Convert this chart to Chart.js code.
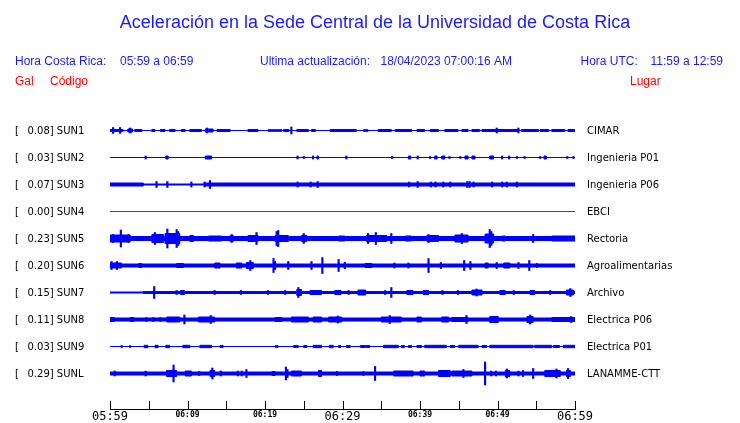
<!DOCTYPE html>
<html><head><meta charset="utf-8">
<script src="https://cdn.jsdelivr.net/npm/chart.js@4/dist/chart.umd.min.js"></script>
<style>html,body{margin:0;padding:0;background:#fff}canvas{display:block}</style>
</head><body><canvas id="c" width="740" height="423"></canvas>
<script>
// ---------- DATA ----------
const titleText = 'Aceleración en la Sede Central de la Universidad de Costa Rica';
const stations = ['SUN1','SUN2','SUN3','SUN4','SUN5','SUN6','SUN7','SUN8','SUN9','SUNL'];
const places = ['CIMAR','Ingenieria P01','Ingenieria P06','EBCI','Rectoria','Agroalimentarias','Archivo','Electrica P06','Electrica P01','LANAMME-CTT'];
const peakGal = [0.08,0.03,0.07,0.00,0.23,0.20,0.15,0.11,0.03,0.29];
const tickLabels = ['05:59','06:09','06:19','06:29','06:39','06:49','06:59'];
// background envelope half-amplitude of each trace
const baseAmp = [0,0,1.5,0,2,1.5,1,1.5,0,1.5];
// bursts: [start minute, end minute, half-amplitude]
const burstsSUN1 = [[0,1.7,1],[2.3,2.9,1.5],[3.2,4.1,1],[5.4,5.8,1],[6.5,7.1,1],[7.7,8.4,1],[9.2,9.7,1],[10.3,11.8,1],[12.3,13.3,1.5],[13.8,15.5,1],[17.8,19.1,1],[20.4,22.2,0.8],[22.4,23.1,1],[24.1,25.6,1],[26,26.5,1],[28.4,31.8,1],[32.7,33.3,0.8],[34.6,36.3,1],[36.8,38.9,1],[39.6,40.6,1],[41.3,42.4,1],[43.2,44.9,1],[45.4,46.2,1],[46.7,47.7,1],[48,52.7,1],[53.1,55.3,1],[55.5,56.6,1],[57,58.7,1],[59.1,60,1]];
const burstsSUN2 = [[7.2,7.5,1.5],[12.3,13.1,1.5],[26.7,26.9,1.5],[38.5,38.8,1.5],[41.9,42.2,1.5],[42.8,43.2,1.5],[45.8,46.2,1.5],[46.7,47.1,1.5],[49,49.5,1.5],[56,56.3,1.5]];
const burstsSUN3 = [[4.3,12.2,0.5]];
const burstsSUN4 = [];
const burstsSUN5 = [[0,2.6,3.5],[5.4,6.9,4],[7.1,9,5],[10.3,10.8,3],[12.7,14.4,2.5],[15.5,15.9,3],[17.8,19.1,3],[21.3,23,3],[24.7,25.4,3],[29.5,30.3,2.5],[33.1,35.7,3],[38.1,38.9,2.5],[40.9,42.4,3],[44.5,46.2,3.5],[48.4,49.5,4.5],[50.6,51,2.5],[57,60,2.5]];
const burstsSUN6 = [[0,1.5,2.5],[3.7,4.1,2],[8.6,9.5,2],[13.5,14.2,2.5],[16.3,17,2.5],[17.6,18.5,3],[30.2,30.4,3],[32.9,33.8,2],[48.4,48.8,2.5],[50.8,51.6,2.5]];
const burstsSUN7 = [[0,4.3,0.5],[9.1,9.6,2],[24.1,24.7,3],[25.8,27.3,2],[29,29.8,2],[32,33,2.5],[38.3,39.1,2],[40.4,41.1,2],[46.7,48,2.5],[50.3,51,2],[54.2,54.8,2],[58.9,59.8,2.5]];
const burstsSUN8 = [[0,0.6,2],[2.6,3.1,2],[7.3,9,2.5],[11.4,13.5,2.5],[21.3,22.2,2],[23.4,25.6,2.5],[26.2,27.3,2.5],[28.2,29.9,2.5],[35,37.6,2.5],[39.6,40.2,2.5],[42.8,43.7,2.5],[44.1,46.2,2],[49,50.1,3],[53.8,54.6,3],[57,60,2]];
const burstsSUN9 = [[4.4,4.9,1.2],[5.8,6.2,1.2],[7.2,7.7,1.2],[9.4,10.3,1.2],[11.6,13.1,1.2],[14.2,14.6,1],[21.3,21.7,0.8],[23.7,24.3,1],[25,25.4,1],[26.2,27.3,1.2],[28.3,28.8,1.2],[29.5,29.8,1],[30.5,31,1],[32.3,33,1],[33.1,33.5,1],[35.3,37.2,1.2],[37.6,38,1],[38.5,38.9,1],[39.6,40.2,1],[40.6,43.4,1.2],[43.9,44.5,1],[45,47.5,1.2],[48,48.6,1],[49,54.6,1.2],[54.8,57,1.2],[57.2,58,1],[58.5,60,1.2]];
const burstsSUNL = [[7.3,8.6,3],[9.7,10.5,2.5],[12.9,13.5,3],[20.9,21.3,2],[23.4,24.7,2.5],[26.9,27.3,3],[36.6,39.1,2.5],[40,40.6,2.5],[42.4,43.9,3],[44.1,46.7,2.5],[51,51.6,3],[56.1,58.1,3],[58.9,59.4,3]];
// spikes: [minute, half-amplitude]
const spikesSUN1 = [[0.4,3],[1.3,3],[2.6,2.5],[12.5,2.5],[23.4,3.5],[49.9,2.5],[52.7,2.5]];
const spikesSUN2 = [[4.6,1.5],[24.2,1.5],[25,1],[26.2,1.5],[30.5,1.5],[36.4,1],[39.7,1.5],[41.3,1],[43.8,1],[45.2,1],[50.6,1.5],[51.5,1.5],[52.5,1],[53.5,1],[55.5,1],[59,1],[59.8,1]];
const spikesSUN3 = [[6,3],[7.4,3],[10.5,2.5],[12.2,2.5],[12.9,4],[24.2,2.5],[25.9,2.5],[26.8,3],[38.6,2.5],[39.7,3],[41.4,2.5],[42,2.5],[43,2.5],[43.9,2.5],[46.1,3],[46.4,3],[46.9,2.5],[49.3,2.5],[50.6,2.5],[51.2,2.5],[52.5,2.5]];
const spikesSUN4 = [];
const spikesSUN5 = [[0.4,4],[1.4,8.5],[2.4,4],[5.8,6],[7.4,9.5],[8.6,9],[8.8,7],[15.7,4],[18.9,6],[21.5,7],[21.7,8],[25,5],[33.3,5],[34.3,6],[36.3,5],[41.1,4],[45.4,5],[49,9],[49.2,7],[54.6,4]];
const spikesSUN6 = [[0.2,4],[0.9,4],[18.1,5],[21.1,7],[21.3,4],[23,4],[26,4],[27.4,8],[29.5,6],[36.7,2.5],[38.5,2.5],[41.1,7],[42.7,3],[45.7,5],[46.5,4],[49.9,3],[52.7,3],[54.1,5],[55.1,2]];
const spikesSUN7 = [[5.7,6],[8.6,2],[13.5,2],[16.9,2],[20.4,2],[22.6,2],[24.3,5],[30.8,2],[35.5,2],[36.3,5],[42.9,2],[44.9,2],[47.3,3.5],[52.1,2],[56.8,2],[59.4,4]];
const spikesSUN8 = [[4.7,2],[5.6,2],[6.5,2],[9.6,4.5],[13,4],[29.4,3.5],[36.1,4],[46,4],[54.2,4.5],[59.5,3]];
const spikesSUN9 = [[1.5,1],[2.6,1]];
const spikesSUNL = [[0.6,2.5],[4.6,2.5],[8.2,8.5],[11.5,2],[13.2,5.5],[14.3,2.5],[16.5,2.5],[17,2.5],[17.6,4],[22.7,6.5],[22.9,4],[29.3,2],[32.7,2],[34.2,7],[45.6,4],[48.4,11.5],[49.2,2.5],[49.8,2.5],[51.2,4.5],[52.7,2.5],[53.3,3],[54.6,5],[57.6,4.5],[59.1,5]];

// ---------- BUILD ----------
const burstSets = [burstsSUN1,burstsSUN2,burstsSUN3,burstsSUN4,burstsSUN5,burstsSUN6,burstsSUN7,burstsSUN8,burstsSUN9,burstsSUNL];
const spikeSets = [spikesSUN1,spikesSUN2,spikesSUN3,spikesSUN4,spikesSUN5,spikesSUN6,spikesSUN7,spikesSUN8,spikesSUN9,spikesSUNL];
const ROW = 27;
const BLUE = '#0000ff', RED = '#ff0000', TXTBLUE = '#1a1aff';
const datasets = [];
const spikeData = [];
stations.forEach((s, k) => {
  const c = k * ROW;
  const b = baseAmp[k];
  const pts = [{x:0, a:b}];
  burstSets[k].forEach(([t0, t1, a]) => { pts.push({x:t0, a}); pts.push({x:t1, a:b}); });
  pts.push({x:60, a:b});
  const col = (k === 3) ? RED : BLUE;
  datasets.push({type:'line', data: pts.map(p => ({x:p.x, y:c - p.a})), borderColor:col, borderWidth:1, pointRadius:0, stepped:true, fill:false});
  datasets.push({type:'line', data: pts.map(p => ({x:p.x, y:c + p.a})), borderColor:col, backgroundColor:col, borderWidth:1, pointRadius:0, stepped:true, fill:'-1'});
  spikeSets[k].forEach(([t, a]) => spikeData.push({x:t, y:[c - a, c + a]}));
});
datasets.push({type:'bar', data: spikeData, backgroundColor: BLUE, borderWidth:0, barThickness:1.5, grouped:false});

const textPlugin = {
  id: 'texts',
  afterDraw(chart) {
    const ctx = chart.ctx, xs = chart.scales.x, ys = chart.scales.y;
    ctx.save();
    ctx.textBaseline = 'alphabetic';
    ctx.fillStyle = TXTBLUE;
    ctx.font = '18px "Liberation Sans", Arial, sans-serif';
    ctx.textAlign = 'center';
    ctx.fillText(titleText, 375, 28);
    ctx.textAlign = 'left';
    ctx.font = '12px "Liberation Sans", Arial, sans-serif';
    ctx.fillText('Hora Costa Rica:', 15, 65);
    ctx.fillText('05:59 a 06:59', 120, 65);
    ctx.fillText('Ultima actualización:', 260, 65);
    ctx.fillText('18/04/2023 07:00:16 AM', 380.5, 65);
    ctx.fillText('Hora UTC:', 580.5, 65);
    ctx.fillText('11:59 a 12:59', 650.5, 65);
    ctx.fillStyle = RED;
    ctx.fillText('Gal', 15, 85);
    ctx.fillText('Código', 50, 85);
    ctx.fillText('Lugar', 630, 85);
    // row labels
    ctx.fillStyle = '#000';
    ctx.font = '10px "DejaVu Sans", sans-serif';
    ctx.textBaseline = 'middle';
    stations.forEach((s, k) => {
      const y = ys.getPixelForValue(k * ROW) + 1;
      ctx.fillText('[', 15, y);
      ctx.fillText(peakGal[k].toFixed(2) + '] ' + s, 27.5, y);
      ctx.fillText(places[k], 587, y);
    });
    // time axis
    const yAx = chart.chartArea.bottom + 0.5;
    ctx.strokeStyle = '#000';
    ctx.lineWidth = 1;
    ctx.beginPath();
    ctx.moveTo(Math.round(xs.getPixelForValue(0)), yAx);
    ctx.lineTo(Math.round(xs.getPixelForValue(60)) + 1, yAx);
    for (let m = 0; m <= 60; m += 5) {
      const x = Math.round(xs.getPixelForValue(m)) + 0.5;
      ctx.moveTo(x, yAx - 8.5);
      ctx.lineTo(x, yAx);
    }
    ctx.stroke();
    ctx.textAlign = 'center';
    ctx.textBaseline = 'alphabetic';
    tickLabels.forEach((lab, i) => {
      const m = i * 10;
      const x = xs.getPixelForValue(m);
      if (i % 3 === 0) {
        ctx.font = '12px "DejaVu Sans Mono", monospace';
        ctx.fillText(lab, x, 420);
      } else {
        ctx.font = 'bold 8px "DejaVu Sans Mono", monospace';
        ctx.fillText(lab, x, 417);
      }
    });
    ctx.restore();
  }
};

new Chart(document.getElementById('c'), {
  type: 'line',
  data: { datasets },
  options: {
    responsive: false,
    animation: false,
    devicePixelRatio: 1,
    events: [],
    layout: { padding: { left: 110, right: 165, top: 103, bottom: 14 } },
    plugins: { legend: { display: false }, tooltip: { enabled: false }, title: { display: false } },
    scales: {
      x: { type: 'linear', min: 0, max: 60, display: false, offset: false },
      y: { type: 'linear', min: -27.5, max: 278.5, reverse: true, display: false }
    }
  },
  plugins: [textPlugin]
});
</script>
</body></html>
